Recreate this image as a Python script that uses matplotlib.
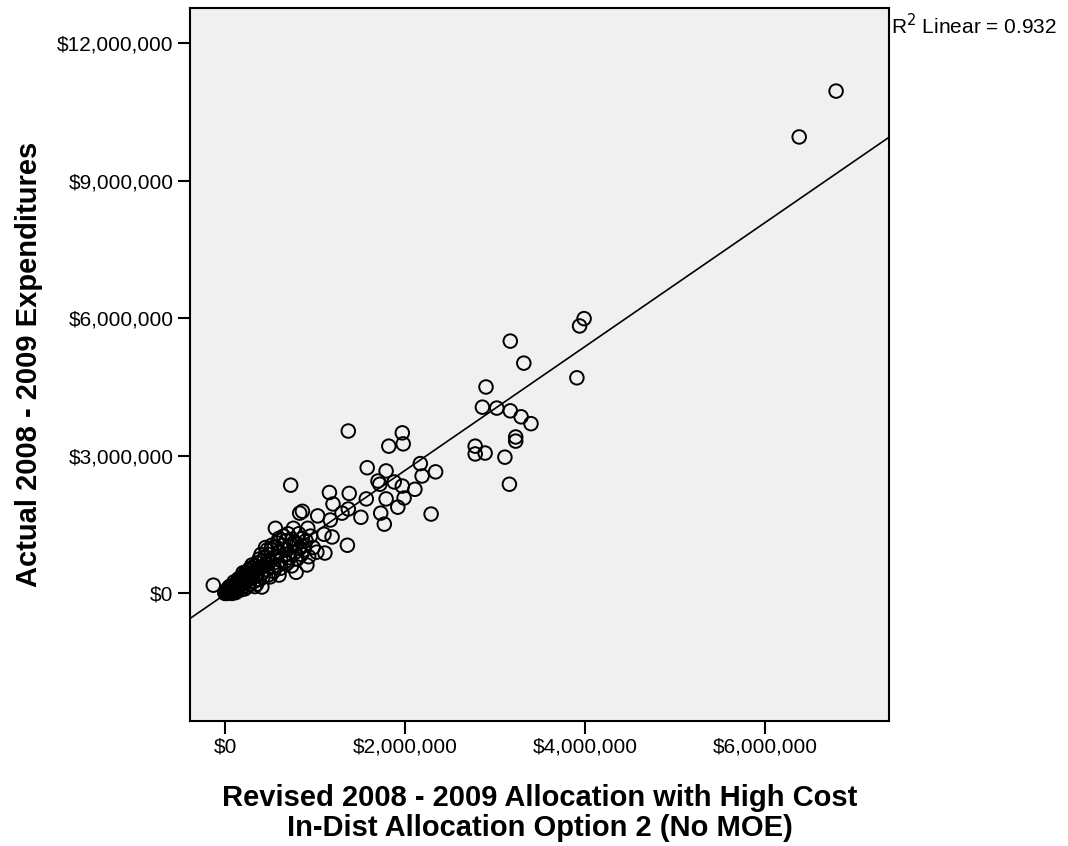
import numpy as np
import matplotlib.pyplot as plt
from matplotlib.ticker import FuncFormatter

# values in millions of dollars
alloc = [
    0.00, 0.00, 0.01, 0.01, 0.02, 0.02, 0.03, 0.03, 0.04, 0.04,
    0.05, 0.05, 0.06, 0.06, 0.07, 0.08, 0.08, 0.09, 0.10, 0.10,
    0.11, 0.12, 0.12, 0.13, 0.14, 0.15, 0.15, 0.16, 0.17, 0.18,
    0.18, 0.19, 0.20, 0.21, 0.22, 0.22, 0.23, 0.24, 0.25, 0.26,
    0.27, 0.28, 0.29, 0.30, 0.31, 0.32, 0.33, 0.34, 0.35, 0.36,
    0.37, 0.38, 0.40, 0.41, 0.42, 0.44, 0.45, 0.46, 0.48, 0.50,
    0.51, 0.53, 0.55, 0.57, 0.58, 0.60, 0.62, 0.64, 0.66, 0.68,
    0.70, 0.72, 0.75, 0.78, 0.80, 0.83, 0.86, 0.88,
    0.20, 0.25, 0.30, 0.35, 0.40, 0.42, 0.47, 0.48, 0.52, 0.54,
    0.58, 0.60, 0.62, 0.65, 0.67, 0.70, 0.72, 0.74, 0.76, 0.80,
    0.82, 0.85, 0.88, 0.90, 0.93, 0.95, 0.98, 0.60, 0.45, 0.38,
    0.33, 0.28, 0.15, 0.10, 0.08, 0.12, 0.18, 0.22, 0.05, 0.03,
    -0.13, 0.79, 0.91, 0.69, 0.41, 0.50, 1.02, 1.11, 1.36, 1.10,
    1.19, 0.56, 0.76, 0.92, 1.17, 1.03, 1.30, 1.37, 1.51, 1.73,
    1.77, 0.86, 0.83, 1.20, 1.92, 2.29, 1.57, 1.79, 1.16, 1.38,
    0.73, 1.99, 2.11, 1.97, 1.88, 1.70, 1.72, 2.19, 2.34, 2.17,
    1.79, 1.58, 1.82, 1.98, 1.97, 1.37, 2.78, 2.78, 2.89, 3.11,
    3.16, 2.86, 3.02, 3.17, 3.29, 3.40, 3.23, 3.23, 2.90, 3.17,
    3.32, 3.91, 3.94, 3.99, 6.38, 6.79,
]
actual = [
    0.00, 0.02, 0.01, 0.04, 0.00, 0.03, 0.05, 0.01, 0.06, 0.02,
    0.08, 0.03, 0.10, 0.05, 0.04, 0.12, 0.07, 0.15, 0.09, 0.18,
    0.12, 0.22, 0.06, 0.16, 0.26, 0.12, 0.20, 0.30, 0.18, 0.25,
    0.35, 0.14, 0.30, 0.40, 0.22, 0.34, 0.46, 0.28, 0.38, 0.50,
    0.20, 0.42, 0.32, 0.55, 0.45, 0.26, 0.60, 0.50, 0.38, 0.66,
    0.55, 0.30, 0.70, 0.58, 0.45, 0.78, 0.64, 0.52, 0.85, 0.70,
    0.95, 0.58, 1.00, 0.80, 1.10, 0.90, 0.72, 1.05, 0.95, 1.15,
    0.85, 1.02, 1.18, 0.90, 1.08, 0.98, 1.20, 1.05,
    0.45, 0.15, 0.62, 0.20, 0.85, 0.35, 0.95, 0.40, 1.05, 0.48,
    0.60, 1.20, 0.55, 1.25, 0.70, 1.30, 0.78, 0.60, 1.10, 0.75,
    1.30, 0.85, 0.95, 1.15, 0.80, 1.25, 1.00, 0.40, 1.00, 0.75,
    0.15, 0.55, 0.32, 0.25, 0.00, 0.02, 0.08, 0.10, 0.15, 0.10,
    0.18, 0.46, 0.62, 0.66, 0.14, 0.36, 0.90, 0.88, 1.05, 1.29,
    1.23, 1.42, 1.42, 1.42, 1.60, 1.69, 1.75, 1.84, 1.66, 1.75,
    1.51, 1.79, 1.75, 1.95, 1.88, 1.73, 2.06, 2.06, 2.20, 2.18,
    2.36, 2.08, 2.27, 2.34, 2.43, 2.45, 2.38, 2.56, 2.65, 2.83,
    2.67, 2.74, 3.21, 3.26, 3.50, 3.54, 3.21, 3.04, 3.06, 2.97,
    2.38, 4.06, 4.04, 3.98, 3.85, 3.70, 3.41, 3.32, 4.50, 5.50,
    5.02, 4.70, 5.83, 5.99, 9.95, 10.95,
]
r2_text = "Linear = 0.932"

x = np.array(alloc) * 1e6
y = np.array(actual) * 1e6

plt.rcParams['font.family'] = ['Liberation Sans', 'DejaVu Sans']

fig = plt.figure(figsize=(10.68, 8.46), dpi=100)
ax = fig.add_axes([0.1779, 0.1478, 0.8324 - 0.1779, 0.9905 - 0.1478])
ax.set_facecolor('#f0f0f0')

ax.scatter(x, y, s=95, facecolors='none', edgecolors='black', linewidths=1.4, zorder=3)

# least squares fit line, as in the SPSS chart
slope, intercept = np.polyfit(x, y, 1)
ax.axline((0, intercept), slope=slope, color='black', linewidth=1.2, zorder=2)

ax.set_xlim(-0.389e6, 7.378e6)
ax.set_ylim(-2.78e6, 12.76e6)
ax.set_xticks([0, 2e6, 4e6, 6e6])
ax.set_yticks([0, 3e6, 6e6, 9e6, 12e6])
money = FuncFormatter(lambda v, p: f"${v:,.0f}")
ax.xaxis.set_major_formatter(money)
ax.yaxis.set_major_formatter(money)
ax.tick_params(direction='out', length=9, width=1.5, labelsize=15, pad=3)
for s in ax.spines.values():
    s.set_linewidth(1.5)

ax.set_xlabel("Revised 2008 - 2009 Allocation with High Cost\nIn-Dist Allocation Option 2 (No MOE)",
              fontsize=21, fontweight='bold', labelpad=20, linespacing=1.05)
ax.set_ylabel("Actual 2008 - 2009 Expenditures", fontsize=21, fontweight='bold', labelpad=10)

ax.text(1.003, 0.993, "R$^2$ " + r2_text, transform=ax.transAxes, fontsize=15,
        ha='left', va='top')

fig.savefig("out.png", dpi=100)
